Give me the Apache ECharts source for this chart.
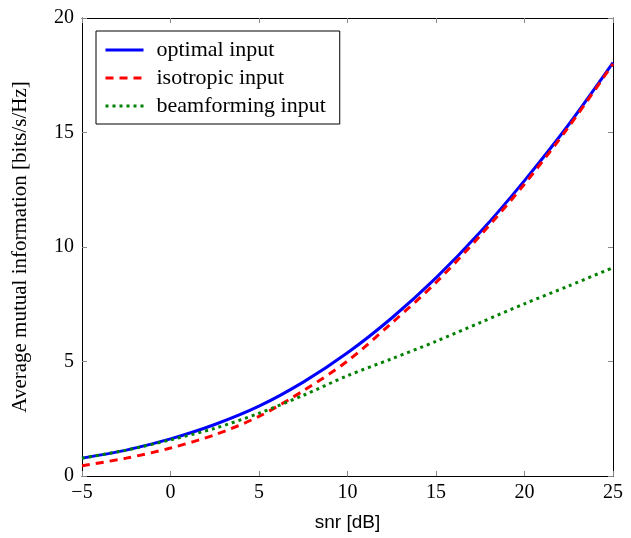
<!DOCTYPE html>
<html>
<head>
<meta charset="utf-8">
<script src="https://cdn.jsdelivr.net/npm/echarts@6/dist/echarts.min.js"></script>
<style>
  html, body { margin: 0; padding: 0; background: #fff; }
  #chart { width: 631px; height: 538px; }
</style>
</head>
<body>
<div id="chart"></div>
<script>
// snr grid in dB
const snr = [-5, -2.5, 0, 2.5, 5, 7.5, 10, 12.5, 15, 17.5, 20, 22.5, 25];

// average mutual information
const optimalInput = [0.78, 1.13, 1.62, 2.25, 3.05, 4.1, 5.38, 6.9, 8.65, 10.65, 12.9, 15.35, 18.05];
const isotropicInput = [0.45, 0.78, 1.22, 1.8, 2.6, 3.72, 5.02, 6.68, 8.45, 10.5, 12.75, 15.25, 18.0];
const beamformingInput = [0.78, 1.13, 1.58, 2.08, 2.74, 3.52, 4.38, 5.12, 5.88, 6.7, 7.52, 8.3, 9.1];

const seriesNames = ["optimal input", "isotropic input", "beamforming input"];

const serif = "'Liberation Serif', 'DejaVu Serif', serif";
const sans = "'Liberation Sans', 'DejaVu Sans', sans-serif";

const pairs = (ys) => snr.map((x, i) => [x, ys[i]]);
const minus = (v) => String(v).replace("-", "\u2212");

const chart = echarts.init(document.getElementById("chart"), null, { renderer: "canvas" });

// shared tick look, ticks point inwards like pgfplots
const tick = { show: true, inside: true, length: 5, lineStyle: { color: "#888", width: 1 } };
const frame = { show: true, onZero: false, lineStyle: { color: "#000", width: 1 } };

chart.setOption({
  animation: false,
  grid: { left: 82, right: 18, top: 18, bottom: 62, containLabel: false },
  legend: {
    orient: "vertical",
    left: 96,
    top: 31,
    padding: [8, 14, 7, 8],
    itemGap: 6,
    itemWidth: 38,
    itemHeight: 21,
    borderColor: "#000",
    borderWidth: 1,
    borderRadius: 0,
    data: seriesNames,
    itemStyle: { opacity: 0 },
    lineStyle: { width: 3 },
    textStyle: { fontFamily: serif, fontSize: 22, color: "#000", padding: [0, 0, 0, 8] },
  },
  xAxis: [
    {
      type: "value",
      min: -5,
      max: 25,
      interval: 5,
      name: "snr [dB]",
      nameLocation: "middle",
      nameGap: 37,
      nameTextStyle: { fontFamily: sans, fontSize: 19, color: "#000" },
      axisLine: frame,
      axisTick: tick,
      splitLine: { show: false },
      axisLabel: { fontFamily: serif, fontSize: 20, color: "#000", margin: 7, formatter: minus },
    },
    {
      type: "value",
      position: "top",
      min: -5,
      max: 25,
      interval: 5,
      axisLine: frame,
      axisTick: tick,
      splitLine: { show: false },
      axisLabel: { show: false },
    },
  ],
  yAxis: [
    {
      type: "value",
      min: 0,
      max: 20,
      interval: 5,
      name: "Average mutual information [bits/s/Hz]",
      nameLocation: "middle",
      nameGap: 51,
      nameTextStyle: { fontFamily: serif, fontSize: 21, color: "#000" },
      axisLine: frame,
      axisTick: tick,
      splitLine: { show: false },
      axisLabel: { fontFamily: serif, fontSize: 20, color: "#000", margin: 8 },
    },
    {
      type: "value",
      position: "right",
      min: 0,
      max: 20,
      interval: 5,
      axisLine: frame,
      axisTick: tick,
      splitLine: { show: false },
      axisLabel: { show: false },
    },
  ],
  series: [
    {
      name: seriesNames[0],
      type: "line",
      data: pairs(optimalInput),
      smooth: 0.3,
      symbol: "none",
      color: "#0000ff",
      lineStyle: { color: "#0000ff", width: 3 },
      z: 3,
    },
    {
      name: seriesNames[1],
      type: "line",
      data: pairs(isotropicInput),
      smooth: 0.3,
      symbol: "none",
      color: "#ff0000",
      lineStyle: { color: "#ff0000", width: 3, type: [8, 6] },
      z: 4,
    },
    {
      name: seriesNames[2],
      type: "line",
      data: pairs(beamformingInput),
      smooth: 0.3,
      symbol: "none",
      color: "#008000",
      lineStyle: { color: "#008000", width: 3, type: [3, 4] },
      z: 5,
    },
  ],
});
</script>
</body>
</html>
